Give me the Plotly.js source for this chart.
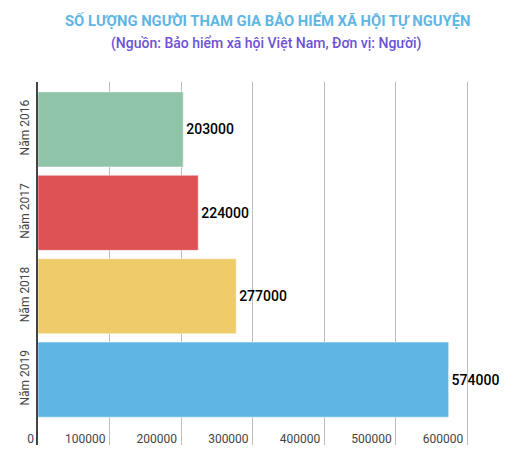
<!DOCTYPE html>
<html>
<head>
<meta charset="utf-8">
<script src="https://cdn.plot.ly/plotly-3.0.1.min.js"></script>
<style>
  html, body { margin: 0; padding: 0; background: #fff; }
  #chart { width: 513px; height: 463px; }
</style>
</head>
<body>
<div id="chart"></div>
<script>
const years = ["Năm 2016", "Năm 2017", "Năm 2018", "Năm 2019"];
const participants = [203000, 224000, 277000, 574000];
const barColors = ["#8FC4A8", "#DE5254", "#EFCB6A", "#5EB6E4"];
const xTicks = [0, 100000, 200000, 300000, 400000, 500000, 600000];

const trace = {
    type: "bar",
    orientation: "h",
    y: years,
    x: participants,
    marker: {
        color: barColors,
        line: { color: "rgba(255,255,255,0.45)", width: 1 }
    },
    text: participants.map(String),
    textposition: "outside",
    cliponaxis: false,
    textfont: { family: "Roboto", size: 14, weight: 500, color: "#000" },
    hoverinfo: "none"
};

const layout = {
    width: 513, height: 463,
    margin: { l: 38, r: 0, t: 82, b: 18 },
    paper_bgcolor: "#fff",
    plot_bgcolor: "#fff",
    font: { family: "Roboto", color: "#444" },
    showlegend: false,
    bargap: 0.1,
    xaxis: {
        range: [0, 664000],
        tickvals: xTicks,
        ticktext: xTicks.map(String),
        ticklabelposition: "inside left",
        ticklabeloverflow: "allow",
        ticklabelshift: -4,
        ticklabelstandoff: -6,
        tickfont: { size: 12, color: "#444" },
        showgrid: true,
        gridcolor: "#BDBDBD",
        gridwidth: 1,
        zeroline: false,
        showline: false,
        fixedrange: true
    },
    yaxis: {
        range: [3.784, -0.569],
        tickangle: -90,
        ticklabelstandoff: 2,
        tickfont: { size: 12, color: "#444" },
        showline: true,
        linecolor: "#444",
        linewidth: 2,
        showgrid: false,
        zeroline: false,
        ticks: "",
        fixedrange: true
    },
    annotations: [
        {
            text: "<b>SỐ LƯỢNG NGƯỜI THAM GIA BẢO HIỂM XÃ HỘI TỰ NGUYỆN</b>",
            xref: "paper", yref: "paper", x: 0.484, y: 1, yshift: 62,
            xanchor: "center", yanchor: "middle", showarrow: false,
            font: { family: "Roboto", size: 14.8, color: "#5EB6E4" }
        },
        {
            text: "(Nguồn: Bảo hiểm xã hội Việt Nam, Đơn vị: Người)",
            xref: "paper", yref: "paper", x: 0.482, y: 1, yshift: 39,
            xanchor: "center", yanchor: "middle", showarrow: false,
            font: { family: "Roboto", size: 14, weight: 500, color: "#6B52D6" }
        }
    ]
};

Plotly.newPlot("chart", [trace], layout, { displayModeBar: false, staticPlot: true });
</script>
</body>
</html>
